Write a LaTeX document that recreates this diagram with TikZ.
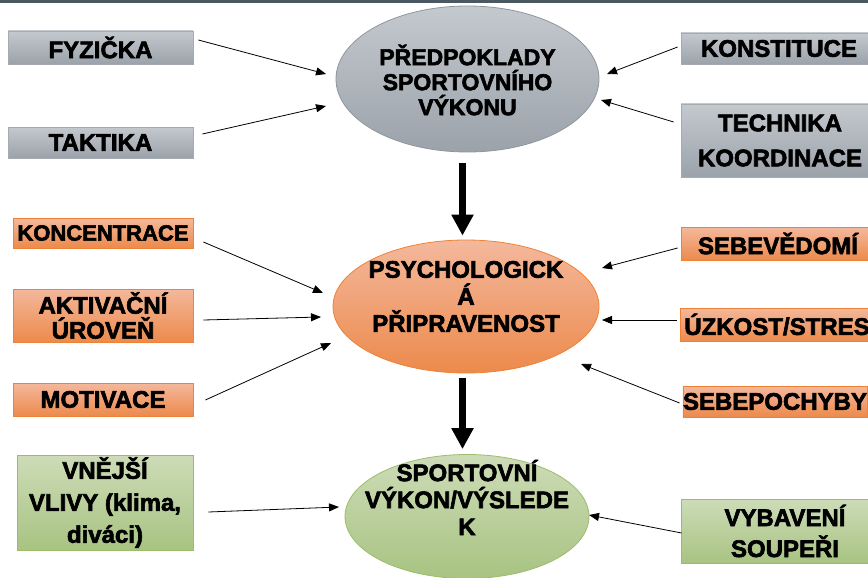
\documentclass[tikz,border=0pt]{standalone}
\usepackage{fontspec}
\setmainfont{Liberation Sans}
\newfontfamily\hv{Liberation Sans Bold}[FakeBold=2.5]
\usetikzlibrary{arrows.meta,calc,shapes.geometric}
\definecolor{barc}{HTML}{4A5862}
\definecolor{gtop}{HTML}{C4C9CE}
\definecolor{gbot}{HTML}{9BA2AA}
\definecolor{gline}{HTML}{8E969E}
\definecolor{otop}{HTML}{F4B89C}
\definecolor{obot}{HTML}{EC8A4C}
\definecolor{oline}{HTML}{EE8236}
\definecolor{ntop}{HTML}{CDDCB7}
\definecolor{nbot}{HTML}{A8C382}
\definecolor{nline}{HTML}{9DBC6B}
\tikzset{
  box/.style={rectangle, inner sep=0pt, line width=0.8pt, align=center, font=\hv\fontsize{24}{25}\selectfont},
  graybox/.style={box, draw=gline!80, top color=gtop, bottom color=gbot},
  orangebox/.style={box, draw=oline, top color=otop, bottom color=obot},
  greenbox/.style={box, draw=nline, top color=ntop, bottom color=nbot},
  oval/.style={ellipse, inner sep=0pt, line width=0.8pt},
  lbl/.style={align=center, font=\hv\fontsize{24}{27}\selectfont},
  thin/.style={line width=0.8pt, -{Triangle[length=10pt,width=8pt]}},
  fat/.style={line width=7pt, -{Triangle[length=21pt,width=21pt]}},
}
\begin{document}
\begin{tikzpicture}[x=1pt,y=-1pt]
\useasboundingbox (0,0) rectangle (868,578);
\begin{scope}
\clip (0,0) rectangle (868,578);
\fill[barc] (0,0) rectangle (868,3);
% ellipses
\node[oval, draw=gline, top color=gtop, bottom color=gbot, minimum width=263, minimum height=146,
  label={[lbl, font=\hv\fontsize{23}{25}\selectfont, yshift=-1pt]center:PŘEDPOKLADY\\SPORTOVNÍHO\\VÝKONU}] (g) at (467.5,79) {};
\node[oval, draw=oline, top color=otop, bottom color=obot, minimum width=266, minimum height=133,
  label={[lbl, yshift=10pt]center:PSYCHOLOGICK\\Á\\PŘIPRAVENOST}] (o) at (466,306.5) {};
\node[oval, draw=nline, top color=ntop, bottom color=nbot, minimum width=244, minimum height=124,
  label={[lbl, yshift=19pt]center:SPORTOVNÍ\\VÝKON/VÝSLEDE\\K}] (n) at (467,516.5) {};
% boxes
\node[graybox, minimum width=185, minimum height=33] (fyz) at (100.5,47.5) {\raisebox{-2pt}{FYZIČKA}};
\node[graybox, minimum width=185, minimum height=31] (tak) at (100.5,142.5) {\raisebox{-2pt}{TAKTIKA}};
\node[graybox, minimum width=196, minimum height=31] (kon) at (779,48.5) {\raisebox{-2pt}{KONSTITUCE}};
\node[graybox, minimum width=198, minimum height=73, font=\hv\fontsize{24}{35}\selectfont] (tech) at (780,140.5) {TECHNIKA\\KOORDINACE};
\node[orangebox, minimum width=180, minimum height=30, font=\hv\fontsize{22}{24}\selectfont] (konc) at (103,233) {KONCENTRACE};
\node[orangebox, minimum width=180, minimum height=53] (akt) at (103,315.5) {AKTIVAČNÍ\\ÚROVEŇ};
\node[orangebox, minimum width=180, minimum height=33] (mot) at (103,399.5) {\raisebox{-2pt}{MOTIVACE}};
\node[orangebox, minimum width=194, minimum height=33] (sebev) at (778,243.5) {SEBEVĚDOMÍ};
\node[orangebox, minimum width=194, minimum height=33] (uzk) at (777,324.5) {ÚZKOST/STRES};
\node[orangebox, minimum width=184, minimum height=31] (sebep) at (775,401.5) {SEBEPOCHYBY};
\node[greenbox, minimum width=176, minimum height=95, font=\hv\fontsize{24}{32}\selectfont] (vne) at (105,502.5) {VNĚJŠÍ\\VLIVY (klima,\\diváci)};
\node[greenbox, minimum width=208, minimum height=64, font=\hv\fontsize{24}{31}\selectfont] (vyb) at (785,531) {VYBAVENÍ\\SOUPEŘI};
% arrow end points
\coordinate (e1) at (326,74);
\coordinate (e2) at (326,106);
\coordinate (e3) at (607,74);
\coordinate (e4) at (601,100);
\coordinate (e5) at (323,293);
\coordinate (e6) at (321,317);
\coordinate (e7) at (331,343);
\coordinate (e8) at (602,268);
\coordinate (e9) at (602,320);
\coordinate (e10) at (581,364);
\coordinate (e11) at (339,507);
\coordinate (e12) at (589,515);
% thin arrows
\draw[thin] ([shift={(5,-7.5)}]fyz.east) -- (e1);
\draw[thin] ([shift={(9,-8.5)}]tak.east) -- (e2);
\draw[thin] ([shift={(-3,-1.5)}]kon.west) -- (e3);
\draw[thin] ([shift={(-7,-18.5)}]tech.west) -- (e4);
\draw[thin] ([shift={(10,9)}]konc.east) -- (e5);
\draw[thin] ([shift={(10,4.5)}]akt.east) -- (e6);
\draw[thin] ([shift={(12,0.5)}]mot.east) -- (e7);
\draw[thin] ([shift={(-3,4.5)}]sebev.west) -- (e8);
\draw[thin] ([shift={(-3,-4.5)}]uzk.west) -- (e9);
\draw[thin] ([shift={(-3,1.5)}]sebep.west) -- (e10);
\draw[thin] ([shift={(15,9.5)}]vne.east) -- (e11);
\draw[thin] ([shift={(1,2)}]vyb.west) -- (e12);
% thick arrows
\draw[fat, shorten <=11pt, shorten >=4pt] ([xshift=-5pt]g.south) -- ([xshift=-3.5pt]o.north);
\draw[fat, shorten <=5pt, shorten >=5pt] ([xshift=-3.5pt]o.south) -- ([xshift=-4.5pt]n.north);
\end{scope}
\end{tikzpicture}
\end{document}
